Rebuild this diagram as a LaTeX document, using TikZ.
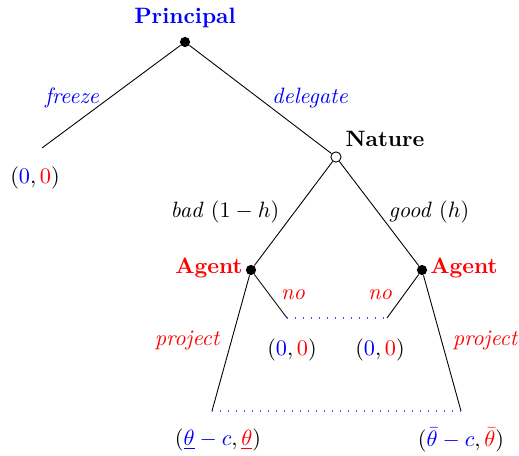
\documentclass[tikz,border=0pt]{standalone}
\usepackage{amsmath}
\usepackage{xcolor}
\usetikzlibrary{positioning}

\begin{document}
\begin{tikzpicture}[
  x=0.45pt, y=-0.45pt,
  decnode/.style={circle, fill=black, inner sep=0pt, minimum size=4.6pt},
  chancenode/.style={circle, draw=black, fill=white, inner sep=0pt, minimum size=4.6pt},
  player/.style={font=\bfseries},
  move/.style={font=\itshape},
  infoset/.style={blue!70, line width=0.5pt, dash pattern=on 0.5pt off 3.1pt}
]
\useasboundingbox (0,0) rectangle (519,456);
% nodes of the tree
\node[decnode] (P) at (185,42) {};
\node[chancenode] (N) at (336,157) {};
\node[decnode] (AL) at (251,270) {};
\node[decnode] (AR) at (422,270) {};
\coordinate (F) at (42,148);
\coordinate (NL) at (287,318);
\coordinate (NR) at (387,318);
\coordinate (PL) at (212,411);
\coordinate (PR) at (461,411);
% players
\node[player, blue] (Plab) at (185,18) {Principal};
\node[player] (Nlab) at (385,139) {Nature};
\node[player, red] (ALlab) at (209,268) {Agent};
\node[player, red] (ARlab) at (464,268) {Agent};
% branches
\draw (P) -- (F);
\draw (P) -- (N);
\draw (N) -- (AL);
\draw (N) -- (AR);
\draw (AL) -- (NL);
\draw (AR) -- (NR);
\draw (AL) -- (PL);
\draw (AR) -- (PR);
\draw[infoset] (NL) -- (NR);
\draw[infoset] (PL) -- (PR);
% moves
\node[move, blue] (frz) at (72,98) {freeze};
\node[move, blue] (del) at (310,98) {delegate};
\node (bad) at (225,212) {\textit{bad} $(1-h)$};
\node (good) at (429,212) {\textit{good} $(h)$};
\node[move, red] (noL) at (293,295) {no};
\node[move, red] (noR) at (380,295) {no};
\node[move, red] (prL) at (187,341) {project};
\node[move, red] (prR) at (485,341) {project};
% payoffs
\node (pay0) at (35,178) {$(\textcolor{blue}{0},\textcolor{red}{0})$};
\node (pay1) at (292,350) {$(\textcolor{blue}{0},\textcolor{red}{0})$};
\node (pay2) at (380,350) {$(\textcolor{blue}{0},\textcolor{red}{0})$};
\node (pay3) at (218,440) {$(\textcolor{blue}{\underline{\theta}-c},\textcolor{red}{\underline{\theta}})$};
\node (pay4) at (461,440) {$(\textcolor{blue}{\bar{\theta}-c},\textcolor{red}{\bar{\theta}})$};
\end{tikzpicture}
\end{document}
